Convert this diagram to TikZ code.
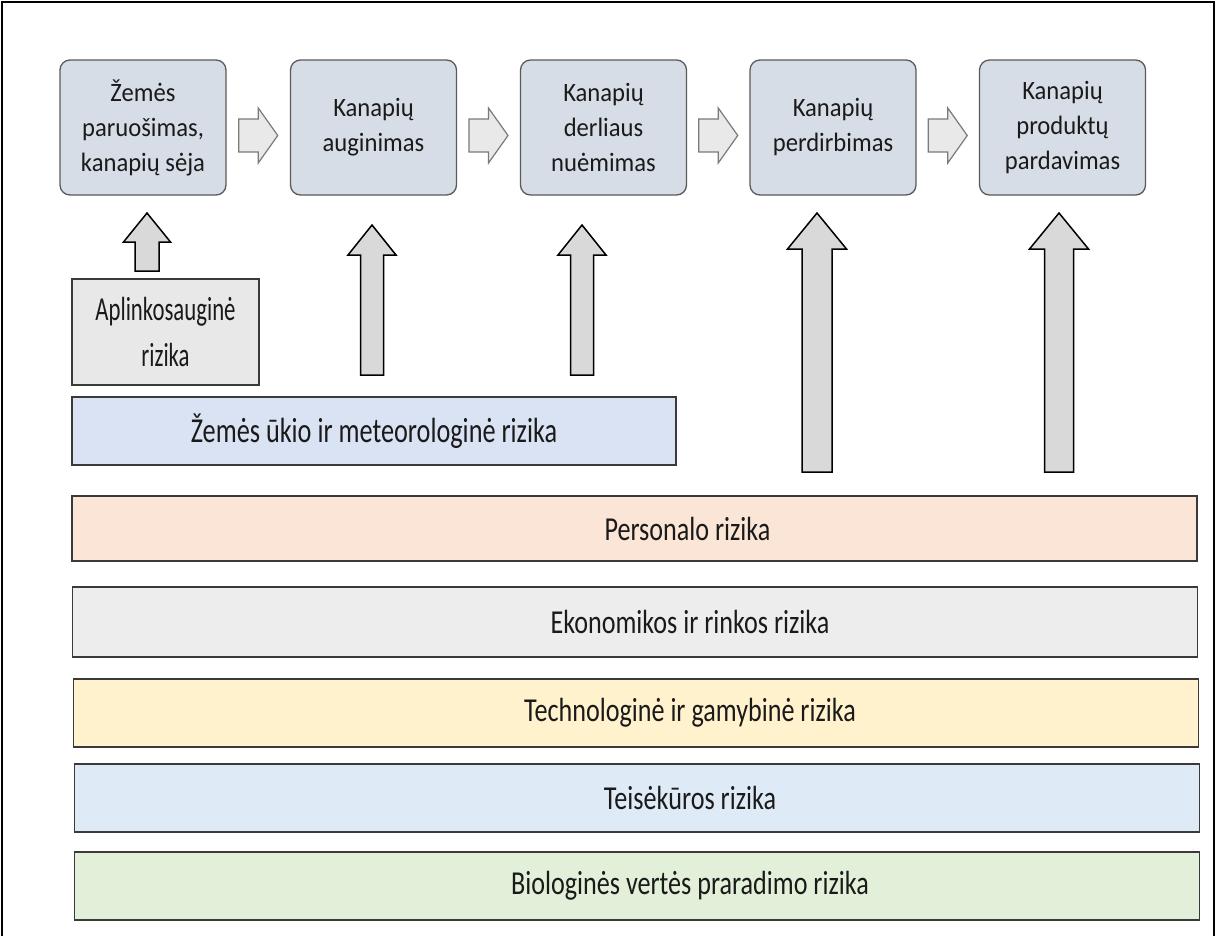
\documentclass[tikz,border=0pt]{standalone}
\usepackage{fontspec}
\setmainfont{Carlito}
% narrowed cuts of the same face for the various labels
\newfontfamily\stagefont{Carlito}[FakeStretch=0.93]
\newfontfamily\envfont{Carlito}[FakeStretch=0.68]
\newfontfamily\agrofont{Carlito}[FakeStretch=0.75]
\newfontfamily\barfont{Carlito}[FakeStretch=0.78]
\usetikzlibrary{calc}

\definecolor{stagefill}{HTML}{D7DDE6}
\definecolor{stageline}{HTML}{5A5A5A}
\definecolor{chevfill}{HTML}{E9E9E9}
\definecolor{chevline}{HTML}{7A7A7A}
\definecolor{upfill}{HTML}{D9D9D9}
\definecolor{riskline}{HTML}{3A3A3A}
\definecolor{envfill}{HTML}{E8E8E8}
\definecolor{agrofill}{HTML}{DAE3F3}
\definecolor{persfill}{HTML}{FBE5D6}
\definecolor{econfill}{HTML}{EDEDED}
\definecolor{techfill}{HTML}{FFF2CC}
\definecolor{lawfill}{HTML}{DEEBF7}
\definecolor{biofill}{HTML}{E2F0D9}
\definecolor{txt}{HTML}{1A1A1A}

\tikzset{
  stage/.style={draw=stageline, line width=1.3pt, fill=stagefill,
    rounded corners=10pt, minimum width=166pt, minimum height=135pt,
    inner sep=0pt, align=center, text=txt,
    font=\stagefont\fontsize{26.5}{35}\selectfont},
  riskbox/.style={draw=riskline, line width=1.6pt, inner sep=0pt,
    align=center, text=txt},
  riskbar/.style={riskbox, minimum width=1125pt},
  bartext/.style={text=txt, inner sep=0pt, font=\barfont\fontsize{33.5}{36}\selectfont},
  blockarrow/.style={draw=black, line width=1.5pt, fill=upfill, line join=miter},
  chevarrow/.style={draw=chevline, line width=1.2pt, fill=chevfill, line join=miter},
  % upward block arrow, origin at the tip:
  % #1 total length, #2 head length, #3 head half width, #4 shaft half width
  pics/uparr/.style n args={4}{code={
    \draw[blockarrow] (0,0) -- (#3,#2) -- (#4,#2) -- (#4,#1) -- (-#4,#1)
      -- (-#4,#2) -- (-#3,#2) -- cycle;
  }},
  % small rightward block arrow between stages, origin at its centre
  pics/chev/.style={code={
    \draw[chevarrow] (-19.5,-16.5) -- (0,-16.5) -- (0,-27.5) -- (19.5,0)
      -- (0,27.5) -- (0,16.5) -- (-19.5,16.5) -- cycle;
  }},
}

\begin{document}
\begin{tikzpicture}[x=1pt, y=-1pt]
\useasboundingbox (0,0) rectangle (1217,935);
\fill[white] (0,0) rectangle (1217,935);

% page frame
\draw[line width=1.5pt] (2,936) -- (2,2) -- (1214,2) -- (1214,936);

% production stages
\node[stage] (s1) at (143,127.5)  {Žemės\\paruošimas,\\kanapių sėja};
\node[stage] (s2) at (373.5,127.5) {Kanapių\\auginimas};
\node[stage] (s3) at (603.5,127.5) {Kanapių\\derliaus\\nuėmimas};
\node[stage] (s4) at (833,127.5)  {Kanapių\\perdirbimas};
\node[stage] (s5) at (1062.5,127.5) {Kanapių\\produktų\\pardavimas};

% flow between stages
\pic at ($(s1.east)!0.5!(s2.west)+(0,8)$) {chev};
\pic at ($(s2.east)!0.5!(s3.west)+(0,8)$) {chev};
\pic at ($(s3.east)!0.5!(s4.west)+(0,8)$) {chev};
\pic at ($(s4.east)!0.5!(s5.west)+(0,8)$) {chev};

% risk groups
\node[riskbox, fill=envfill, minimum width=187pt, minimum height=106pt,
      font=\envfont\fontsize{33.5}{46}\selectfont] (env) at (165.5,332)
      {Aplinkosauginė\\rizika};
\node[riskbox, fill=agrofill, minimum width=604pt, minimum height=68pt,
      font=\agrofont\fontsize{35}{38}\selectfont] (agro) at (374,431)
      {Žemės ūkio ir meteorologinė rizika};

\node[riskbar, fill=persfill, minimum height=65pt] (pers) at (634.5,528.5) {};
\node[riskbar, fill=econfill, minimum height=70pt] (econ) at (635,622) {};
\node[riskbar, fill=techfill, minimum height=68pt] (tech) at (636,713) {};
\node[riskbar, fill=lawfill,  minimum height=68pt] (law)  at (637,798) {};
\node[riskbar, fill=biofill,  minimum height=68pt] (bio)  at (637,886) {};

\node[bartext] (perst) at ($(pers.center)+(53,0)$) {Personalo rizika};
\node[bartext] (econt) at ($(econ.center)+(55,0)$) {Ekonomikos ir rinkos rizika};
\node[bartext] (techt) at ($(tech.center)+(54,0)$) {Technologinė ir gamybinė rizika};
\node[bartext] (lawt)  at ($(law.center)+(53,0)$)  {Teisėkūros rizika};
\node[bartext] (biot)  at ($(bio.center)+(53,0)$)  {Biologinės vertės praradimo rizika};

% risk impact on stages
\pic at (147,213)  {uparr={58}{29}{23.5}{12}};
\pic at (372,225)  {uparr={150}{30}{24}{11.5}};
\pic at (582,225)  {uparr={150}{30}{24}{11.5}};
\pic at (817,213)  {uparr={259}{36}{29.5}{15}};
\pic at (1059,213) {uparr={259}{36}{29.5}{14.5}};
\end{tikzpicture}
\end{document}
